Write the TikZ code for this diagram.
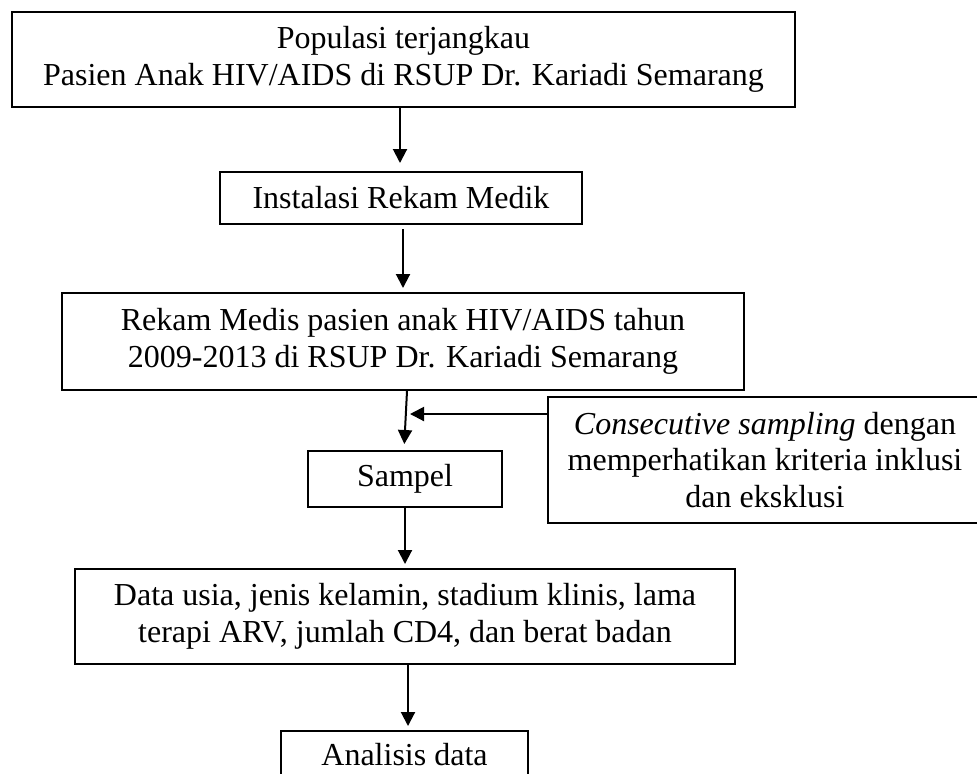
\documentclass[tikz,border=0pt]{standalone}
\usepackage{fontspec}
\setmainfont{Liberation Serif}
\usetikzlibrary{arrows.meta}

\begin{document}
\begin{tikzpicture}[x=0.5pt,y=-0.5pt,
  kotak/.style={draw,line width=1pt,align=center,inner sep=0pt,font=\fontsize{16}{18.4}\selectfont},
  panah/.style={-{Triangle[length=7pt,width=7pt]},line width=1pt}]
\clip (0,0) rectangle (977,773); % --- batas gambar
% --- kotak alur
\node[kotak,minimum width=391.5pt,minimum height=47.5pt] (populasi) at (403.5,59.5) {Populasi terjangkau\\Pasien Anak HIV/AIDS di RSUP Dr. Kariadi Semarang};
\node[kotak,minimum width=181pt,minimum height=26pt] (instalasi) at (401,198) {Instalasi Rekam Medik};
\node[kotak,minimum width=341pt,minimum height=48.5pt] (rekam) at (403,341.5) {Rekam Medis pasien anak HIV/AIDS tahun\\2009-2013 di RSUP Dr. Kariadi Semarang};
\node[kotak,minimum width=217pt,minimum height=63pt] (konsekutif) at (765,460) {\textit{Consecutive sampling} dengan\\memperhatikan kriteria inklusi\\dan eksklusi};
\node[kotak,minimum width=97pt,minimum height=28pt] (sampel) at (405,479) {Sampel};
\node[kotak,minimum width=330pt,minimum height=47.5pt] (data) at (405,616.5) {Data usia, jenis kelamin, stadium klinis, lama\\terapi ARV, jumlah CD4, dan berat badan};
\node[kotak,minimum width=123.5pt,minimum height=24pt] (analisis) at (404.5,755) {Analisis data};
% --- panah
\draw[panah,shorten >=4pt] ([xshift=-1.75pt]populasi.south) -- ([xshift=-1.75pt]populasi.south |- instalasi.north);
\draw[panah,shorten <=2pt,shorten >=2pt] ([xshift=1pt]instalasi.south) -- ([xshift=1pt]instalasi.south |- rekam.north);
\draw[panah,shorten >=3pt] ([xshift=2pt]rekam.south) -- ([xshift=-0.5pt]sampel.north);
\coordinate (temu) at (406,414);
\draw[panah,shorten >=2pt] (temu -| konsekutif.west) -- (temu);
\draw[panah,shorten >=2pt] (sampel.south) -- (sampel.south |- data.north);
\draw[panah,shorten >=2pt] ([xshift=1.5pt]data.south) -- ([xshift=1.5pt]data.south |- analisis.north);
\end{tikzpicture}
\end{document}
